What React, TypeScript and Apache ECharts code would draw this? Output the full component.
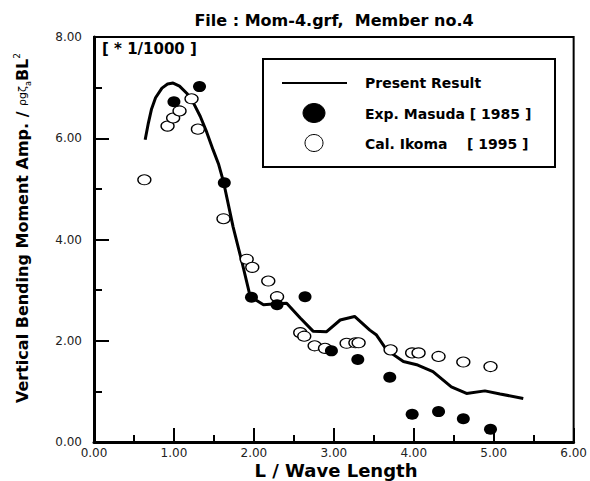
import React, { useEffect, useRef } from "react";
import * as echarts from "echarts";

const titleText = "File : Mom-4.grf,  Member no.4";
const scaleNote = "[ * 1/1000 ]";
const xName = "L / Wave Length";
const legendNames = ["Present Result", "Exp. Masuda [ 1985 ]", "Cal. Ikoma    [ 1995 ]"];

const presentX = [0.64, 0.68, 0.72, 0.77, 0.85, 0.92, 0.99, 1.07, 1.16, 1.25, 1.33, 1.41, 1.49, 1.56, 1.62, 1.74, 1.85, 1.95, 2.03, 2.12, 2.28, 2.41, 2.58, 2.74, 2.91, 3.08, 3.26, 3.45, 3.53, 3.66, 3.87, 4.05, 4.24, 4.47, 4.66, 4.89, 5.08, 5.37];
const presentY = [5.97, 6.30, 6.58, 6.80, 6.99, 7.07, 7.09, 7.03, 6.89, 6.68, 6.43, 6.12, 5.77, 5.48, 5.14, 4.25, 3.56, 2.90, 2.80, 2.71, 2.73, 2.74, 2.45, 2.19, 2.18, 2.41, 2.48, 2.21, 2.12, 1.82, 1.59, 1.52, 1.39, 1.09, 0.96, 1.01, 0.95, 0.86];

const masudaX = [1.00, 1.32, 1.63, 1.97, 2.29, 2.64, 2.97, 3.30, 3.70, 3.98, 4.31, 4.62, 4.96];
const masudaY = [6.72, 7.02, 5.12, 2.86, 2.71, 2.87, 1.80, 1.63, 1.28, 0.55, 0.60, 0.46, 0.25];

const ikomaX = [0.63, 0.92, 0.99, 1.07, 1.22, 1.30, 1.62, 1.91, 1.98, 2.18, 2.29, 2.58, 2.63, 2.76, 2.89, 3.16, 3.27, 3.31, 3.71, 3.98, 4.06, 4.31, 4.62, 4.96];
const ikomaY = [5.18, 6.24, 6.40, 6.54, 6.78, 6.18, 4.41, 3.61, 3.45, 3.18, 2.87, 2.16, 2.09, 1.90, 1.85, 1.95, 1.96, 1.96, 1.82, 1.76, 1.76, 1.69, 1.58, 1.49];

const pairs = (xs: number[], ys: number[]) => xs.map((x, i) => [x, ys[i]]);

const FONT = "DejaVu Sans";

export default function App() {
  const ref = useRef<HTMLDivElement>(null);
  useEffect(() => {
    document.body.style.margin = "0";
    const chart = echarts.init(ref.current!, null, { renderer: "svg" });
    const axisCommon = {
      type: "value" as const,
      splitLine: { show: false },
      axisLine: { show: true, onZero: false, lineStyle: { color: "#000", width: 3 } },
      axisLabel: {
        formatter: (v: number) => v.toFixed(2),
        fontFamily: FONT,
        fontSize: 12,
        color: "#222",
      },
    };
    chart.setOption({
      animation: false,
      backgroundColor: "#fff",
      grid: {
        left: 94,
        top: 37,
        width: 480,
        height: 405,
        show: true,
        borderColor: "#000",
        borderWidth: 2,
        backgroundColor: "transparent",
      },
      xAxis: {
        ...axisCommon,
        min: 0,
        max: 6,
        interval: 1,
        axisTick: { show: true, inside: true, length: 14, lineStyle: { color: "#000", width: 2 } },
        minorTick: { show: true, splitNumber: 2, length: 7, lineStyle: { color: "#000", width: 2 } },
        axisLabel: { ...axisCommon.axisLabel, margin: 5 },
      },
      yAxis: {
        ...axisCommon,
        min: 0,
        max: 8,
        interval: 2,
        axisTick: { show: true, inside: true, length: 15, lineStyle: { color: "#000", width: 2 } },
        minorTick: { show: true, splitNumber: 2, length: 8, lineStyle: { color: "#000", width: 2 } },
        axisLabel: { ...axisCommon.axisLabel, margin: 12 },
      },
      series: [
        {
          name: legendNames[0],
          type: "line",
          data: pairs(presentX, presentY),
          showSymbol: false,
          lineStyle: { color: "#000", width: 3 },
          z: 2,
        },
        {
          name: legendNames[2],
          type: "scatter",
          data: pairs(ikomaX, ikomaY),
          symbol: "circle",
          symbolSize: [13, 10],
          itemStyle: { color: "#fff", borderColor: "#000", borderWidth: 1.2, opacity: 1 },
          z: 3,
        },
        {
          name: legendNames[1],
          type: "scatter",
          data: pairs(masudaX, masudaY),
          symbol: "circle",
          symbolSize: [13, 11],
          itemStyle: { color: "#000", opacity: 1 },
          z: 4,
        },
      ],
      graphic: [
        {
          type: "text",
          x: 334,
          y: 20,
          style: {
            text: titleText,
            fontFamily: FONT,
            fontWeight: "bold",
            fontSize: 16,
            fill: "#000",
            align: "center",
            verticalAlign: "middle",
          },
        },
        {
          type: "text",
          x: 102,
          y: 49,
          style: {
            text: scaleNote,
            fontFamily: FONT,
            fontWeight: "bold",
            fontSize: 15,
            fill: "#000",
            align: "left",
            verticalAlign: "middle",
          },
        },
        {
          type: "text",
          x: 336,
          y: 470,
          style: {
            text: xName,
            fontFamily: FONT,
            fontWeight: "bold",
            fontSize: 18,
            fill: "#000",
            align: "center",
            verticalAlign: "middle",
          },
        },
        {
          type: "text",
          x: 22,
          y: 228,
          rotation: Math.PI / 2,
          style: {
            text: "{b|Vertical Bending Moment Amp. / }{s|ρgζ}{sub|a}{b|BL}{sup|2}",
            fontFamily: FONT,
            align: "center",
            verticalAlign: "middle",
            fill: "#000",
            rich: {
              b: { fontFamily: FONT, fontWeight: "bold", fontSize: 16, fill: "#000", lineHeight: 20 },
              s: { fontFamily: FONT, fontSize: 11, fill: "#000", lineHeight: 20 },
              sub: { fontFamily: FONT, fontSize: 8, fill: "#000", verticalAlign: "bottom", lineHeight: 20 },
              sup: { fontFamily: FONT, fontSize: 9, fill: "#000", verticalAlign: "top", lineHeight: 20 },
            },
          },
        },
        {
          type: "rect",
          shape: { x: 263, y: 59, width: 292, height: 108 },
          style: { fill: "#fff", stroke: "#000", lineWidth: 2 },
          z: 10,
        },
        {
          type: "line",
          shape: { x1: 282, y1: 83, x2: 347, y2: 83 },
          style: { stroke: "#000", lineWidth: 2 },
          z: 11,
        },
        {
          type: "ellipse",
          shape: { cx: 314, cy: 113, rx: 11, ry: 9.5 },
          style: { fill: "#000", stroke: "#000", lineWidth: 1 },
          z: 11,
        },
        {
          type: "ellipse",
          shape: { cx: 314, cy: 143, rx: 9, ry: 8.5 },
          style: { fill: "#fff", stroke: "#000", lineWidth: 1 },
          z: 11,
        },
        ...legendNames.map((name, i) => ({
          type: "text",
          x: 365,
          y: [83, 114, 144][i],
          z: 11,
          style: {
            text: name,
            fontFamily: FONT,
            fontWeight: "bold",
            fontSize: 14,
            fill: "#000",
            align: "left",
            verticalAlign: "middle",
          },
        })),
      ],
    });
    return () => chart.dispose();
  }, []);
  return (
    <div
      ref={ref}
      style={{ position: "fixed", left: 0, top: 0, width: 590, height: 481, background: "#fff" }}
    />
  );
}
